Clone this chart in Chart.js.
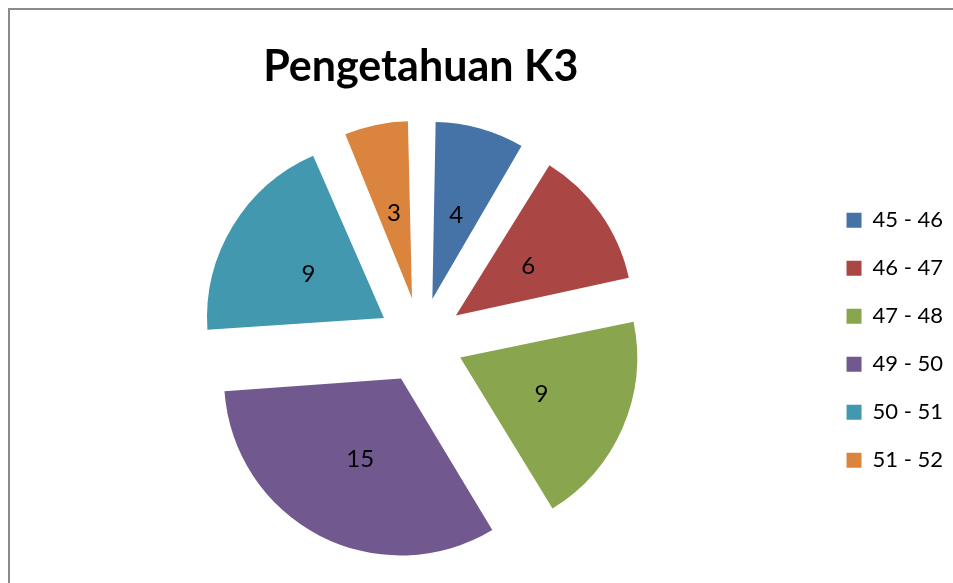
<!DOCTYPE html>
<html>
<head>
<meta charset="utf-8">
<script src="https://cdn.jsdelivr.net/npm/chart.js@4/dist/chart.umd.min.js"></script>
<style>
    html, body { margin: 0; padding: 0; background: #fff; overflow: hidden; }
    #frame {
        position: absolute; left: 8px; top: 8px;
        width: 1200px; height: 900px;
        border: 2px solid #8a8a8a;
        box-sizing: border-box;
    }
    #knowledgeChart { position: absolute; left: 0; top: 0; }
</style>
</head>
<body>
<div id="frame"></div>
<canvas id="knowledgeChart" width="953" height="583"></canvas>
<script>
const categories = ['45 - 46', '46 - 47', '47 - 48', '49 - 50', '50 - 51', '51 - 52'];
const counts = [4, 6, 9, 15, 9, 3];
const sliceColors = ['#4572A7', '#AA4643', '#89A54E', '#71588F', '#4198AF', '#DB843D'];
const chartTitle = 'Pengetahuan K3';

// chart.js grows small exploded slices a bit, shrink them back so all have the same radius
const evenRadius = {
    id: 'evenRadius',
    beforeDatasetsDraw(chart) {
        const meta = chart.getDatasetMeta(0);
        const R = meta.controller.outerRadius;
        meta.data.forEach(arc => {
            const shift = arc.options.offset / 4;
            const fix = 1 - Math.sin(Math.min(Math.PI, arc.circumference || 0));
            arc.outerRadius = R - shift * fix;
        });
    }
};

// draws the count in the middle of each exploded slice
const sliceValueLabels = {
    id: 'sliceValueLabels',
    afterDatasetsDraw(chart) {
        const ctx = chart.ctx;
        const meta = chart.getDatasetMeta(0);
        const R = meta.controller.outerRadius;
        ctx.save();
        ctx.font = '24px Lato';
        ctx.fillStyle = '#000';
        ctx.textAlign = 'center';
        ctx.textBaseline = 'middle';
        meta.data.forEach((arc, i) => {
            const mid = (arc.startAngle + arc.endAngle) / 2;
            const shift = arc.options.offset / 4; // chart.js moves arcs by offset/4
            const dist = shift + R * 0.5;
            ctx.fillText(String(counts[i]), arc.x + Math.cos(mid) * dist, arc.y + Math.sin(mid) * dist + 2);
        });
        ctx.restore();
    }
};

const ctx = document.getElementById('knowledgeChart').getContext('2d');

new Chart(ctx, {
    type: 'pie',
    data: {
        labels: categories,
        datasets: [
            {
                data: counts,
                backgroundColor: sliceColors,
                borderWidth: 0,
                offset: 172, // exploded slices (~43px gap)
                hoverOffset: 0,
                radius: 177
            }
        ]
    },
    options: {
        responsive: false,
        animation: false,
        layout: {
            padding: { left: 21, right: 0, top: 0, bottom: 0 }
        },
        plugins: {
            title: {
                display: true,
                text: chartTitle,
                fullSize: false,
                color: '#000',
                font: { family: 'Lato', size: 43, weight: 'bold' },
                padding: { top: 41, bottom: 5 }
            },
            legend: {
                position: 'right',
                fullSize: false,
                labels: {
                    color: '#000',
                    font: { family: 'Lato', size: 22 },
                    boxWidth: 15,
                    boxHeight: 15,
                    padding: 26
                }
            },
            tooltip: { enabled: false }
        }
    },
    plugins: [evenRadius, sliceValueLabels]
});
</script>
</body>
</html>
